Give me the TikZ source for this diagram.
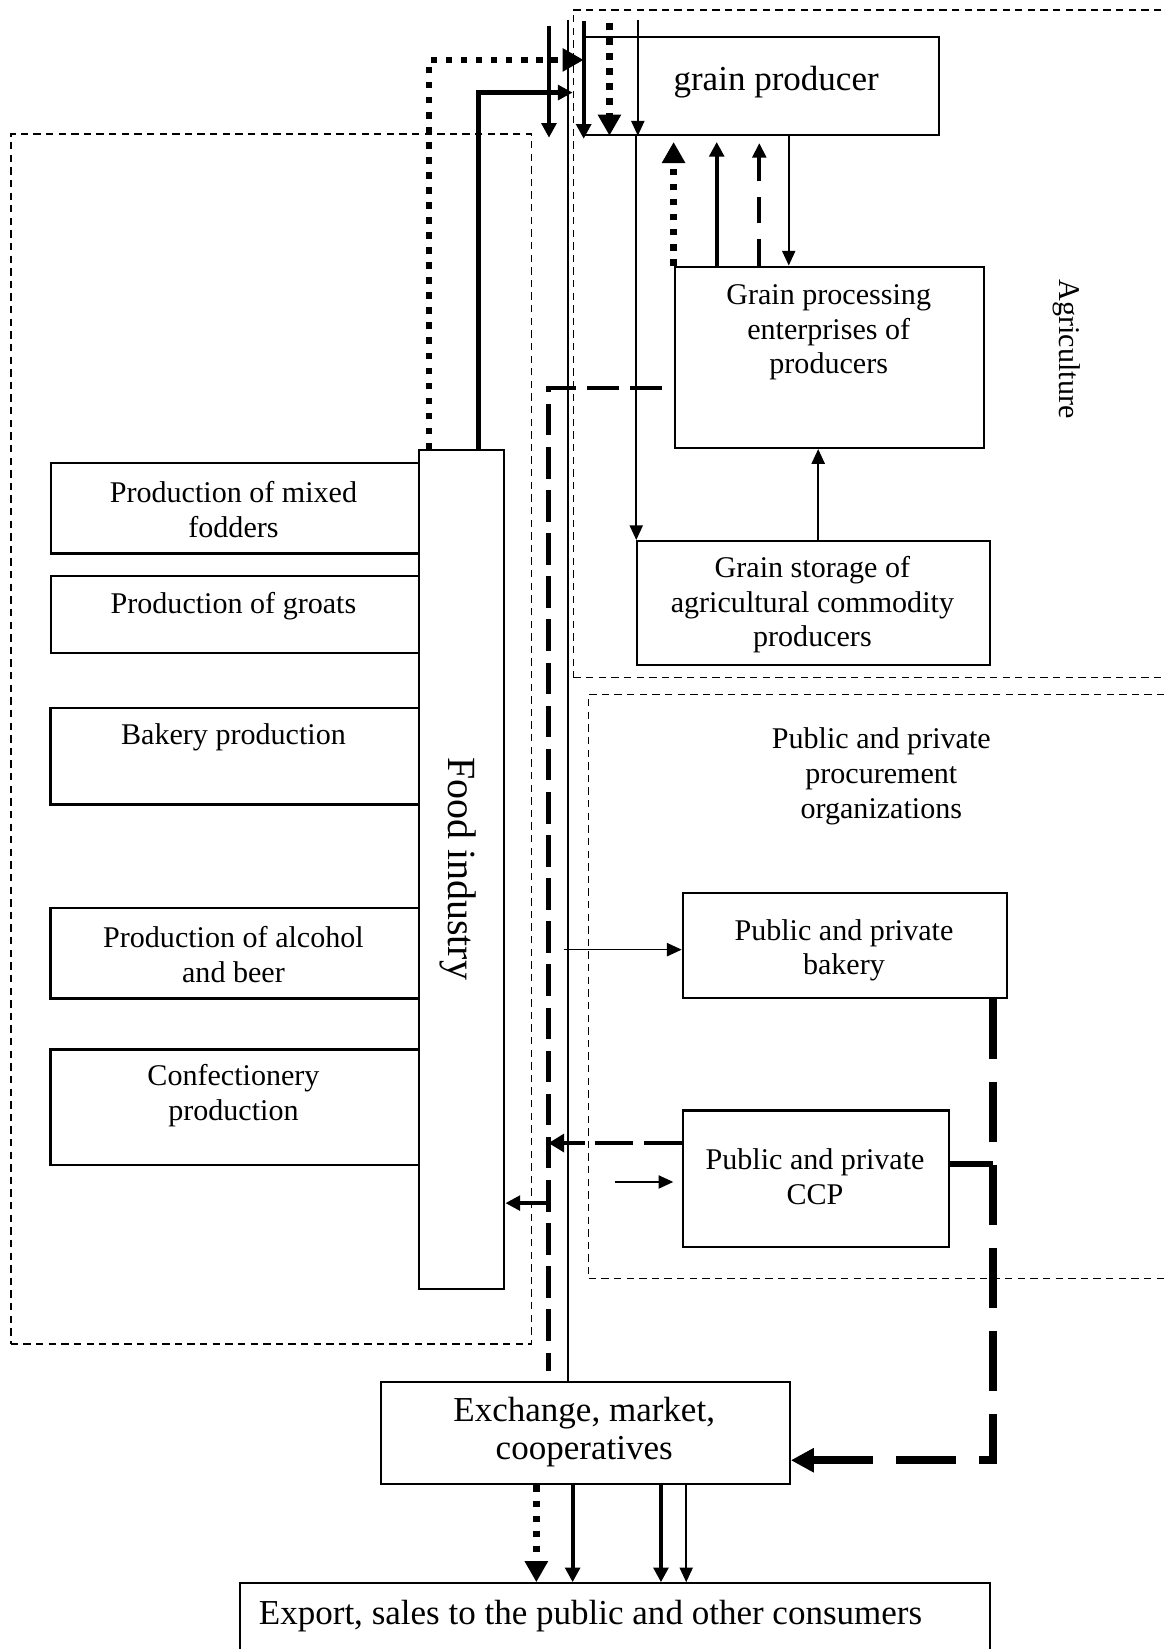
\documentclass[tikz,border=0pt]{standalone}
\usepackage{fontspec}
\setmainfont{Liberation Serif}
\usetikzlibrary{arrows.meta,calc}
\begin{document}
\begin{tikzpicture}[x=1pt,y=-1pt,
  box/.style={draw, line width=2pt, rectangle, inner sep=0pt, anchor=north west},
  region/.style={draw, line width=1.5pt, dash pattern=on 7pt off 5pt, rectangle, inner sep=0pt, anchor=north west},
  txt/.style={inner sep=0pt, align=center, font=\fontsize{28.6pt}{33pt}\selectfont},
  bigtxt/.style={inner sep=0pt, align=center, font=\fontsize{33.3pt}{36pt}\selectfont},
  foodtxt/.style={inner sep=0pt, font=\fontsize{38pt}{44pt}\selectfont},
  thinline/.style={line width=1.6pt},
  thinarrow/.style={line width=1.6pt, -{Triangle[length=14pt,width=12.5pt]}},
  thickarrow/.style={line width=4pt, -{Triangle[length=14pt,width=14pt]}},
  dotarrow/.style={line width=6.3pt, dash pattern=on 6.3pt off 8pt, -{Triangle[length=20pt,width=21pt]}},
  middash/.style={line width=4pt, dash pattern=on 30pt off 11pt},
  ccpdash/.style={line width=4pt, dash pattern=on 36pt off 10pt, -{Triangle[length=15pt,width=17pt]}},
  lightdash/.style={line width=3.5pt, dash pattern=on 25pt off 15pt, -{Triangle[length=14pt,width=13pt]}},
  bigdash/.style={line width=7.3pt, dash pattern=on 57pt off 22pt, -{Triangle[length=22pt,width=22pt]}},
  ccpline/.style={line width=5pt}
]
\useasboundingbox (0,0) rectangle (1109,1568);
\clip (0,0) rectangle (1109,1568);

% regions
\node[region, minimum width=495pt, minimum height=1150.5pt] (foodreg) at (9.5,126.8) {};
\node[region, minimum width=580pt, minimum height=635pt] (agrireg) at (544.5,8.5) {};
\node[region, minimum width=566pt, minimum height=555.5pt] (procreg) at (559,659.5) {};

% boxes
\node[box, minimum width=336.5pt, minimum height=93pt] (gp) at (555,34) {};
\node[box, minimum width=294.5pt, minimum height=172.5pt] (proc) at (640.5,252.5) {};
\node[box, minimum width=335pt, minimum height=118pt] (stor) at (605,513.5) {};
\node[box, minimum width=349.5pt, minimum height=86pt] (fodder) at (47.5,439.3) {};
\node[box, minimum width=349.5pt, minimum height=73.2pt] (groats) at (47.5,546.8) {};
\node[box, minimum width=350pt, minimum height=92pt] (bakeprod) at (47,672) {};
\node[box, minimum width=350pt, minimum height=86.2pt] (alcohol) at (47,862.2) {};
\node[box, minimum width=350pt, minimum height=110pt] (confect) at (47,996.9) {};
\node[box, minimum width=81.6pt, minimum height=797pt] (food) at (397,427.3) {};
\node[box, minimum width=308.5pt, minimum height=100pt] (bakery) at (648.2,848) {};
\node[box, minimum width=253.5pt, minimum height=130pt] (ccp) at (648.2,1054.9) {};
\node[box, minimum width=389pt, minimum height=97pt] (exch) at (361,1313.5) {};
\node[box, minimum width=713pt, minimum height=120pt] (export) at (227,1504.5) {};

% texts
\node[bigtxt] (gptxt) at (738,78) {grain producer};
\node[txt] (proctxt) at (788,316) {Grain processing\\enterprises of\\producers};
\node[txt] (stortxt) at (772.5,575) {Grain storage of\\agricultural commodity\\producers};
\node[txt] (fodtxt) at (222,484.5) {Production of mixed\\fodders};
\node[txt] (grotxt) at (222,576) {Production of groats};
\node[txt] (baktxt) at (222,701) {Bakery production};
\node[txt] (alctxt) at (222,907.5) {Production of alcohol\\and beer};
\node[txt] (contxt) at (222,1042) {Confectionery\\production};
\node[foodtxt, rotate=-90] (foodtxt) at (436,826) {Food industry};
\node[txt, rotate=-90] (agritxt) at (1014,332) {Agriculture};
\node[txt] (proctitle) at (838,738) {Public and private\\procurement\\organizations};
\node[txt] (bakerytxt) at (802.5,903.5) {Public and private\\bakery};
\node[txt] (ccptxt) at (775,1119) {Public and private\\CCP};
\node[bigtxt] (exchtxt) at (555.5,1362) {Exchange, market,\\cooperatives};
\node[bigtxt, anchor=west] (exporttxt) at (246,1537) {Export, sales to the public and other consumers};

% connectors: food industry to grain producer
\coordinate (f1) at ($(food.north west)+(11,0)$);
\coordinate (f2) at ($(food.north west)+(58,0)$);
\coordinate (g1) at ($(gp.north west)+(0,23)$);
\coordinate (a1) at ($(agrireg.north west)+(0,79.5)$);
\draw[dotarrow] (f1) |- (g1);
\draw[thickarrow] (f2) |- (a1);

% free arrows at the top
\coordinate (fa) at (522,25);
\coordinate (fb) at (522,131);
\draw[thickarrow] (fa) -- (fb);
\coordinate (tl) at (540,19);
\draw[thinline] (tl) -- (tl |- exch.north);

% into grain producer from above
\coordinate (t1) at ($(gp.north west)+(0,-14)$);
\coordinate (t1e) at ($(gp.south west)+(0,3)$);
\draw[thickarrow] (t1) -- (t1e);
\coordinate (t2) at ($(gp.north west)+(24.5,-12)$);
\draw[dotarrow] (t2) -- (t2 |- gp.south);
\coordinate (t3) at ($(gp.north west)+(51.5,-15)$);
\draw[thinarrow] (t3) -- (t3 |- gp.south);
\coordinate (t4) at ($(gp.south west)+(50,0)$);
\draw[thinarrow] (t4) -- (t4 |- stor.north);

% between grain producer and processing
\coordinate (u1) at (proc.north west);
\coordinate (u2) at ($(proc.north west)+(41,0)$);
\coordinate (u3) at ($(proc.north west)+(81.5,0)$);
\coordinate (u4) at ($(gp.south west)+(195,0)$);
\coordinate (u5) at ($(stor.north west)+(173,0)$);
\draw[dotarrow, shorten >=6pt] (u1) -- (u1 |- gp.south);
\draw[thickarrow, shorten >=6pt] (u2) -- (u2 |- gp.south);
\draw[lightdash, shorten >=7pt] (u3) -- (u3 |- gp.south);
\draw[thinarrow] (u4) -- (u4 |- proc.north);
\draw[thinarrow] (u5) -- (u5 |- proc.south);

% long dashed line from processing down to exchange
\coordinate (dstart) at ($(proc.west)+(0,29.3)$);
\coordinate (dend) at ($(exch.north west)+(160.5,-10)$);
\draw[middash, dash phase=30pt] (dstart) -| (dend);
\coordinate (j1) at ($(exch.north west)+(160.5,-169.5)$);
\draw[thickarrow, line width=3.3pt] (j1) -- (j1 -| food.east);
\coordinate (cc) at ($(ccp.west)+(0,-34)$);
\draw[ccpdash] (cc) -- (cc -| j1);
\coordinate (s1) at ($(ccp.west)+(-63,3)$);
\coordinate (s2) at ($(ccp.west)+(-8,3)$);
\draw[thinarrow] (s1) -- (s2);
\coordinate (k1) at ($(bakery.west)+(-112,4)$);
\coordinate (k2) at ($(bakery.west)+(0,4)$);
\draw[thinarrow] (k1) -- (k2);

% big dashed line to exchange
\coordinate (bd) at ($(bakery.south east)+(-14.5,0)$);
\coordinate (be) at ($(exch.east)+(0,25.5)$);
\draw[bigdash] (bd) |- (be);
\coordinate (ce) at ($(ccp.east)+(0,-14)$);
\draw[ccpline] (ce) -- (ce -| bd);

% exchange to export
\coordinate (b1) at ($(exch.south west)+(149,0)$);
\coordinate (b2) at ($(exch.south west)+(183.5,0)$);
\coordinate (b3) at ($(exch.south west)+(267.5,0)$);
\coordinate (b4) at ($(exch.south west)+(291.5,0)$);
\draw[dotarrow] (b1) -- (b1 |- export.north);
\draw[thickarrow] (b2) -- (b2 |- export.north);
\draw[thickarrow] (b3) -- (b3 |- export.north);
\draw[thinarrow] (b4) -- (b4 |- export.north);
\end{tikzpicture}
\end{document}
